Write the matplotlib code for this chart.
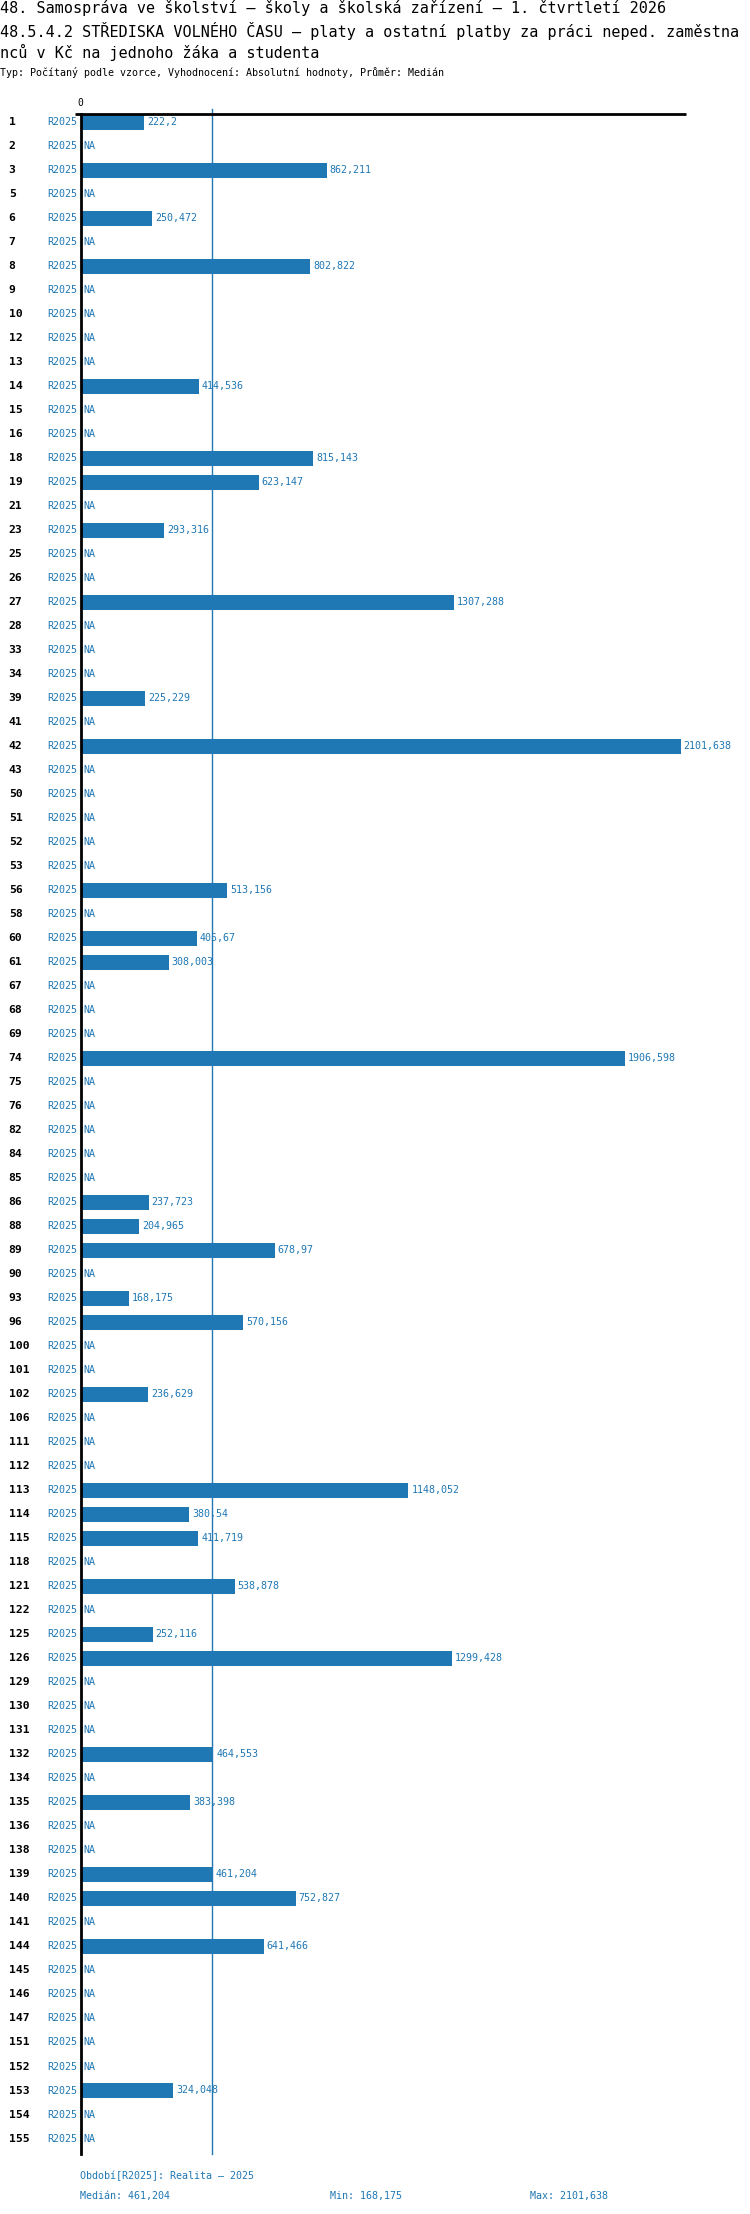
import numpy as np
import matplotlib
matplotlib.use("Agg")
import matplotlib.pyplot as plt

# --- data ---
title1 = "48. Samospráva ve školství – školy a školská zařízení – 1. čtvrtletí 2026"
title2 = "48.5.4.2 STŘEDISKA VOLNÉHO ČASU – platy a ostatní platby za práci neped. zaměstna"
title3 = "nců v Kč na jednoho žáka a studenta"
subtitle = "Typ: Počítaný podle vzorce, Vyhodnocení: Absolutní hodnoty, Průměr: Medián"
period = "R2025"
period_note = "Období[R2025]: Realita – 2025"

rows = [1, 2, 3, 5, 6, 7, 8, 9, 10, 12,
        13, 14, 15, 16, 18, 19, 21, 23, 25, 26,
        27, 28, 33, 34, 39, 41, 42, 43, 50, 51,
        52, 53, 56, 58, 60, 61, 67, 68, 69, 74,
        75, 76, 82, 84, 85, 86, 88, 89, 90, 93,
        96, 100, 101, 102, 106, 111, 112, 113, 114, 115,
        118, 121, 122, 125, 126, 129, 130, 131, 132, 134,
        135, 136, 138, 139, 140, 141, 144, 145, 146, 147,
        151, 152, 153, 154, 155]

values = [222.2, None, 862.211, None, 250.472, None, 802.822, None, None, None,
          None, 414.536, None, None, 815.143, 623.147, None, 293.316, None, None,
          1307.288, None, None, None, 225.229, None, 2101.638, None, None, None,
          None, None, 513.156, None, 405.67, 308.003, None, None, None, 1906.598,
          None, None, None, None, None, 237.723, 204.965, 678.97, None, 168.175,
          570.156, None, None, 236.629, None, None, None, 1148.052, 380.54, 411.719,
          None, 538.878, None, 252.116, 1299.428, None, None, None, 464.553, None,
          383.398, None, None, 461.204, 752.827, None, 641.466, None, None, None,
          None, None, 324.048, None, None]

vals = np.array([np.nan if v is None else v for v in values], dtype=float)
vmin = np.nanmin(vals)
vmax = np.nanmax(vals)
vmed = np.nanmedian(vals)


def fmt(v):
    return str(round(float(v), 3)).replace(".", ",")


BLUE = "#1f77b4"
MONO = "DejaVu Sans Mono"
W, H = 750, 2214

fig = plt.figure(figsize=(W / 100, H / 100), dpi=100)

# axes box in pixels: x 80.7..680.7, y 114.3..2154 (from top)
left, right = 80.7, 680.7
top, bottom = 114.3, 2154.0
ax = fig.add_axes([left / W, 1 - bottom / H, (right - left) / W, (bottom - top) / H])

ypos = np.arange(len(rows))
mask = ~np.isnan(vals)
ax.barh(ypos[mask], vals[mask], height=0.646, color=BLUE, zorder=2)

ax.set_xlim(0, vmax)
# row centres are 24 px apart, first one 8.2 px below the top line
ax.set_ylim((bottom - 122.5) / 24, (top - 122.5) / 24)

for s in ["top", "right", "bottom"]:
    ax.spines[s].set_visible(False)
ax.spines["left"].set_linewidth(2)
ax.spines["left"].set_color("black")
ax.spines["left"].set_zorder(3)
ax.set_xticks([])
ax.set_yticks([])

# top line, a bit wider than the plot
ax.plot([-6 / 600, 605 / 600], [1, 1], transform=ax.transAxes,
        color="black", lw=2, clip_on=False, solid_capstyle="butt")
ax.text(0, 1 + 11 / 2040, "0", transform=ax.transAxes, ha="center",
        va="center", fontsize=7, family=MONO, color="black")

# median line
ax.axvline(vmed, ymin=0, ymax=1 + 5 / 2040, color=BLUE, lw=1, zorder=1,
           clip_on=False)

for i, (r, v) in enumerate(zip(rows, vals)):
    ax.annotate(str(r), xy=(0, i), xytext=(-72, 0), textcoords="offset pixels",
                ha="left", va="center", fontsize=8.2, family=MONO,
                fontweight="bold", color="black", annotation_clip=False)
    ax.annotate(period, xy=(0, i), xytext=(-3, 0), textcoords="offset pixels",
                ha="right", va="center", fontsize=7.2, family=MONO,
                color=BLUE, annotation_clip=False)
    if np.isnan(v):
        ax.annotate("NA", xy=(0, i), xytext=(3, 0), textcoords="offset pixels",
                    ha="left", va="center", fontsize=7.2, family=MONO,
                    color=BLUE, annotation_clip=False)
    else:
        ax.annotate(fmt(v), xy=(v, i), xytext=(3, 0), textcoords="offset pixels",
                    ha="left", va="center", fontsize=7.2, family=MONO,
                    color=BLUE, annotation_clip=False)

# titles
fig.text(0, 1 - 8.5 / H, title1, ha="left", va="center", fontsize=10.9, family=MONO)
fig.text(0, 1 - 30.7 / H, title2, ha="left", va="center", fontsize=10.9, family=MONO)
fig.text(0, 1 - 52.7 / H, title3, ha="left", va="center", fontsize=10.9, family=MONO)
fig.text(0, 1 - 72.7 / H, subtitle, ha="left", va="center", fontsize=7.2, family=MONO)

# footer
fig.text(80 / W, 1 - 2176 / H, period_note, ha="left", va="center",
         fontsize=7.2, family=MONO, color=BLUE)
fig.text(80 / W, 1 - 2196.5 / H, "Medián: " + fmt(vmed), ha="left", va="center",
         fontsize=7.2, family=MONO, color=BLUE)
fig.text(330 / W, 1 - 2196.5 / H, "Min: " + fmt(vmin), ha="left", va="center",
         fontsize=7.2, family=MONO, color=BLUE)
fig.text(530 / W, 1 - 2196.5 / H, "Max: " + fmt(vmax), ha="left", va="center",
         fontsize=7.2, family=MONO, color=BLUE)

fig.savefig("out.png", dpi=100)
plt.close(fig)
